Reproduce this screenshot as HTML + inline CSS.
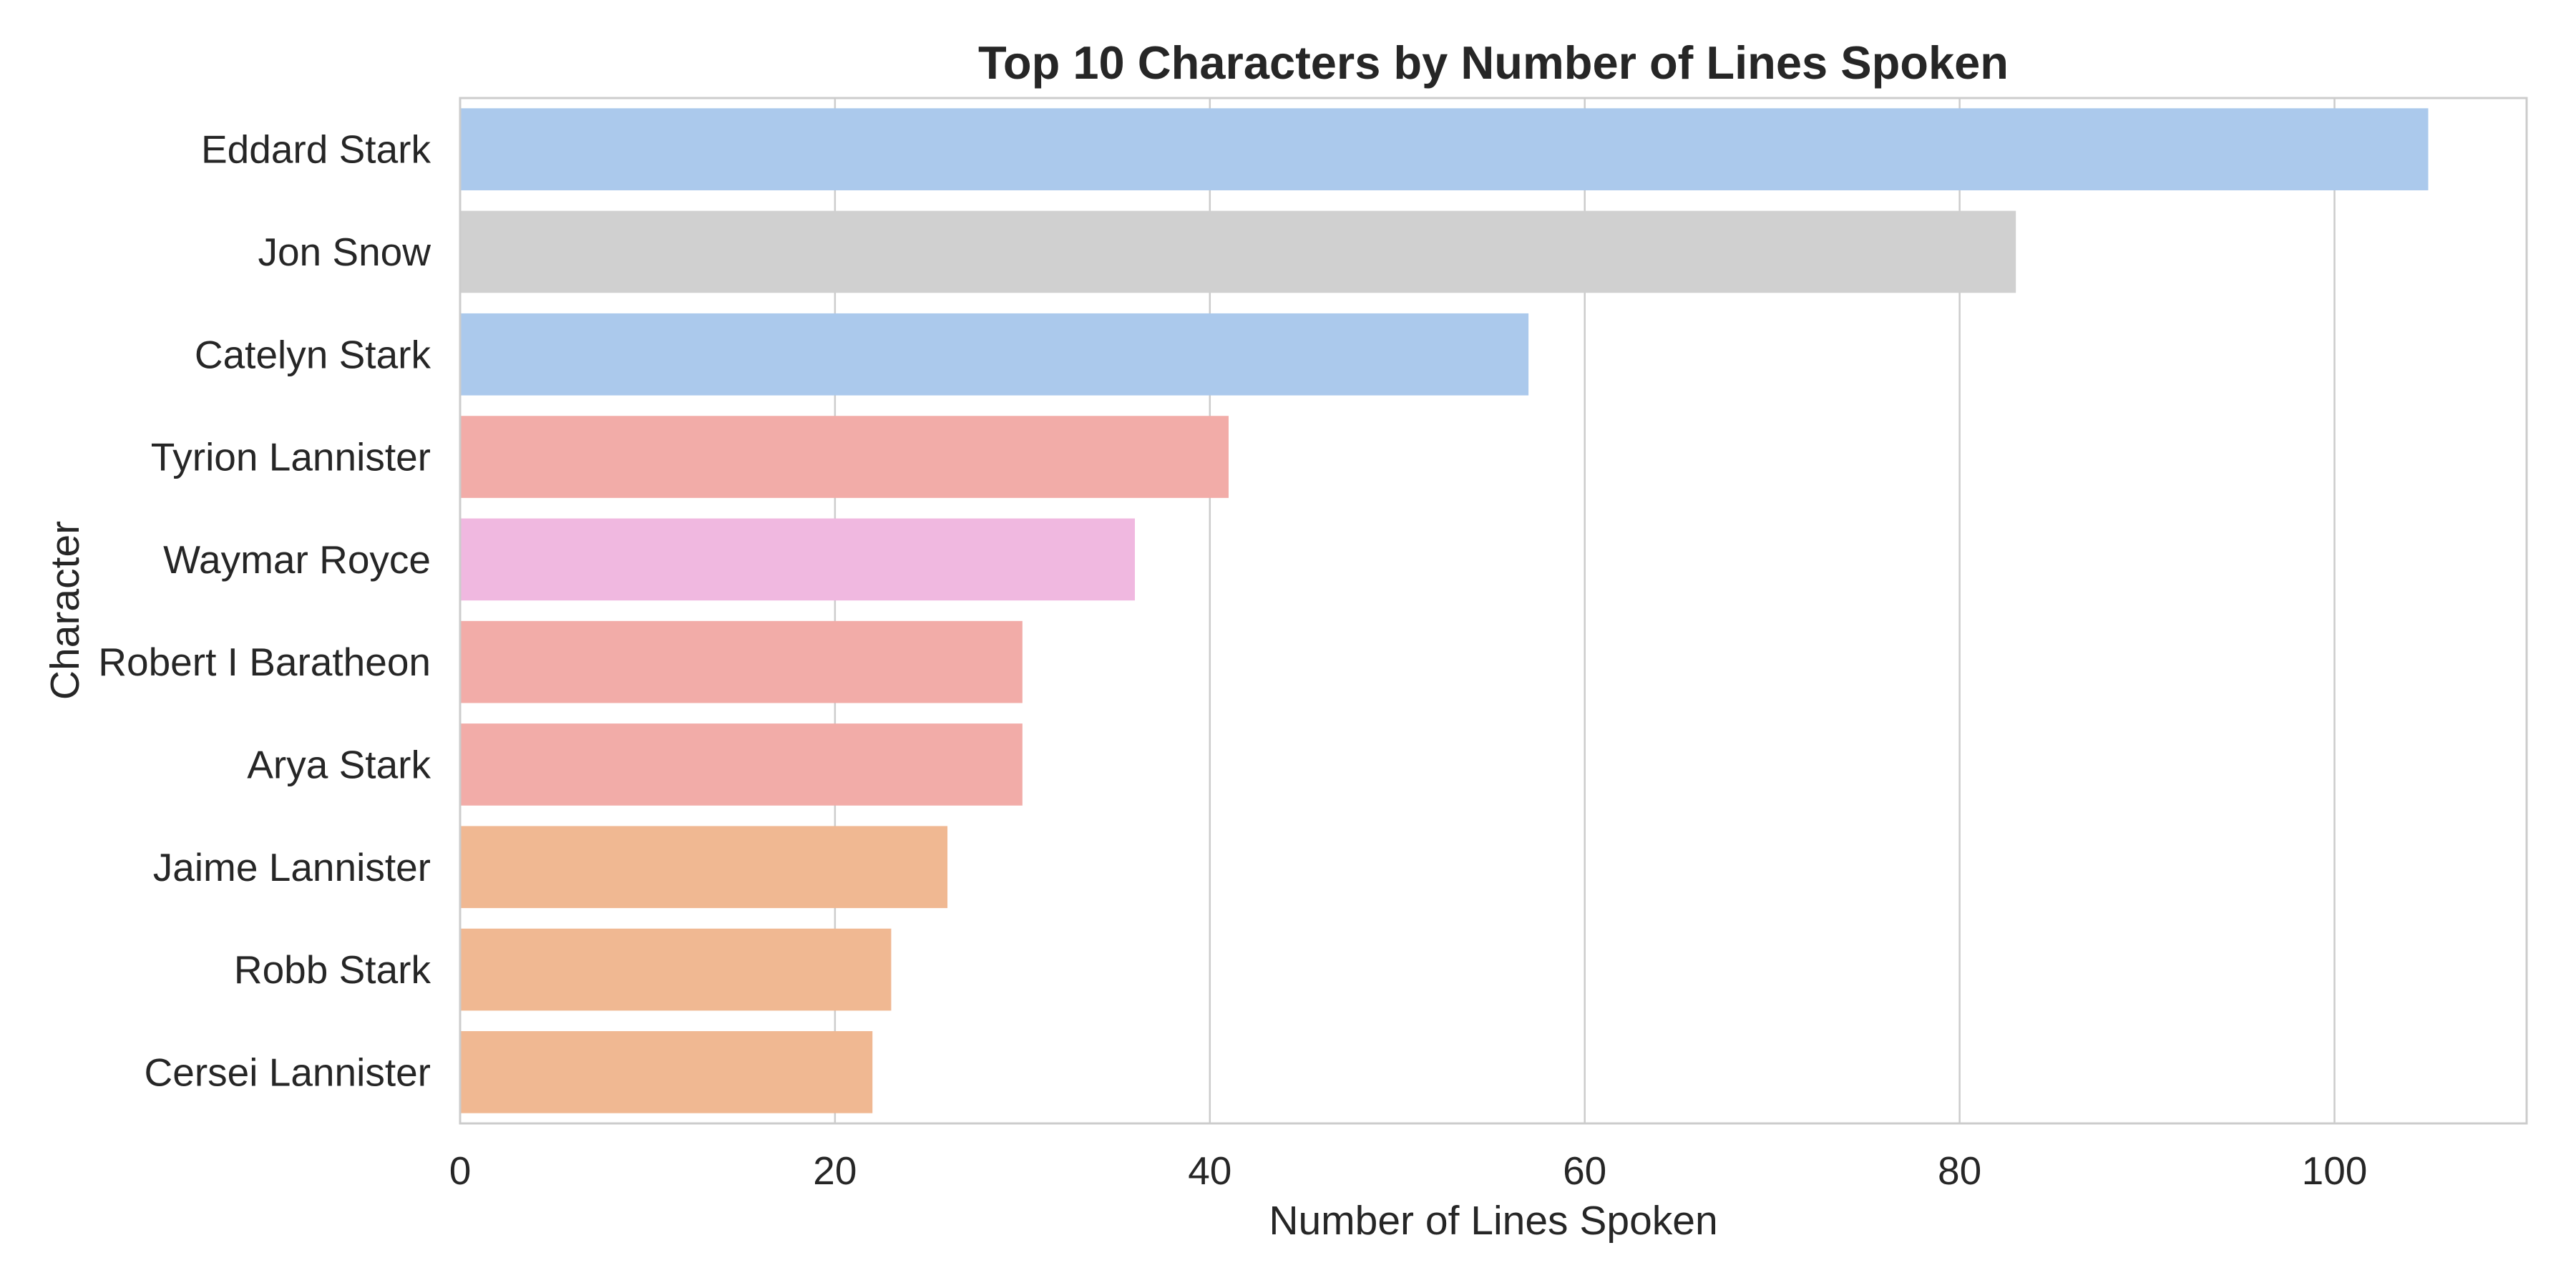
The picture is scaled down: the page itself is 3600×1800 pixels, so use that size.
<!DOCTYPE html>
<html><head><meta charset="utf-8"><style>
html,body{margin:0;padding:0;background:#fff;}
svg{display:block;font-family:"Liberation Sans",Arial,sans-serif;}
</style></head><body>
<svg id="chart" width="3600" height="1800" viewBox="0 0 3600 1800">
<rect width="3600" height="1800" fill="#fff"/>
<g id="grid"></g>
<g id="bars"></g>
<g id="yticks"></g>
<g id="xticks"></g>
<rect x="643" y="137" width="2888" height="1433" fill="none" stroke="#cccccc" stroke-width="3"/>
<text x="2087" y="110" text-anchor="middle" font-size="65" font-weight="bold" fill="#262626">Top 10 Characters by Number of Lines Spoken</text>
<text x="2087" y="1725" text-anchor="middle" font-size="57" fill="#262626">Number of Lines Spoken</text>
<text transform="translate(110,853) rotate(-90)" text-anchor="middle" font-size="57" fill="#262626">Character</text>
</svg>
<script>
const categories = ["Eddard Stark","Jon Snow","Catelyn Stark","Tyrion Lannister","Waymar Royce","Robert I Baratheon","Arya Stark","Jaime Lannister","Robb Stark","Cersei Lannister"];
const values = [105,83,57,41,36,30,30,26,23,22];
const barColors = ["#abc9ec","#d0d0d0","#abc9ec","#f2aca8","#f0b8e0","#f2aca8","#f2aca8","#f0b892","#f0b892","#f0b892"];
const xTicks = [0,20,40,60,80,100];
const xMax = 110.25;

const NS="http://www.w3.org/2000/svg";
const L=643,R=3531,T=137,B=1570;
const xs=v=>L+(v/xMax)*(R-L);
const band=(B-T)/categories.length;
const yc=i=>T+band*(i+0.5);
function mk(tag,attrs,parent){const e=document.createElementNS(NS,tag);for(const k in attrs)e.setAttribute(k,attrs[k]);parent.appendChild(e);return e;}
const grid=document.getElementById('grid'),bars=document.getElementById('bars'),yt=document.getElementById('yticks'),xt=document.getElementById('xticks');
xTicks.forEach(t=>{
  const g=mk('line',{x1:xs(t),x2:xs(t),y1:T,y2:B,stroke:'#cccccc','stroke-width':2.5},grid);
  
  
  const tx=mk('text',{x:xs(t),y:1655,'text-anchor':'middle','font-size':55,fill:'#262626'},xt);
  tx.textContent=t;
  
  
});
categories.forEach((c,i)=>{
  const h=band*0.8;
  const r=mk('rect',{x:xs(0),y:yc(i)-h/2,width:xs(values[i])-xs(0),height:h,fill:barColors[i]},bars);
  
  
  const tx=mk('text',{x:602,y:yc(i)+19,'text-anchor':'end','font-size':55,fill:'#262626'},yt);
  tx.textContent=c;
  
  
});
</script>
</body></html>
